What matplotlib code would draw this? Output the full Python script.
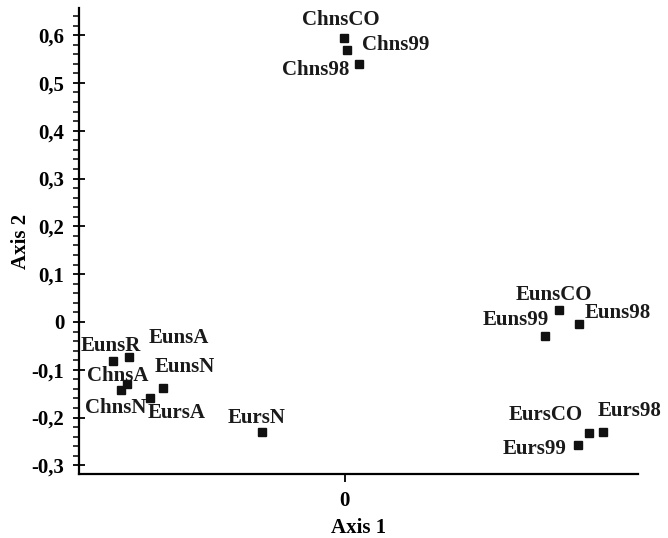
import matplotlib
matplotlib.use("Agg")
import matplotlib.pyplot as plt
from matplotlib.ticker import FixedLocator, MultipleLocator, FuncFormatter

plt.rcParams['font.family'] = ['Liberation Serif', 'DejaVu Serif']
plt.rcParams['font.weight'] = 'bold'

# point names and coordinates on the two axes
names = ["ChnsCO", "Chns99", "Chns98",
         "EunsCO", "Euns98", "Euns99",
         "EursCO", "Eurs98", "Eurs99",
         "EunsR", "EunsA", "ChnsA", "ChnsN", "EunsN", "EursA", "EursN"]
axis1 = [-0.002, 0.004, 0.029,
         0.448, 0.490, 0.418,
         0.511, 0.540, 0.487,
         -0.485, -0.452, -0.456, -0.467, -0.379, -0.408, -0.174]
axis2 = [0.594, 0.569, 0.540,
         0.025, -0.004, -0.029,
         -0.232, -0.230, -0.257,
         -0.082, -0.073, -0.130, -0.142, -0.138, -0.159, -0.230]

# label placement: offset in pixels and horizontal alignment
label_pos = {
    "ChnsCO": (-3, 18, "center"),
    "Chns99": (15, 5, "left"),
    "Chns98": (-9, -6, "right"),
    "EunsCO": (-5, 15, "center"),
    "Euns98": (6, 11, "left"),
    "Euns99": (4, 16, "right"),
    "EursCO": (-6, 18, "right"),
    "Eurs98": (-5, 21, "left"),
    "Eurs99": (-11, -4, "right"),
    "EunsR": (-2, 15, "center"),
    "EunsA": (20, 19, "left"),
    "ChnsA": (-9, 8, "center"),
    "ChnsN": (25, -18, "right"),
    "EunsN": (-9, 21, "left"),
    "EursA": (-2, -15, "left"),
    "EursN": (-5, 14, "center"),
}

fig = plt.figure(figsize=(6.68, 5.38), dpi=100)
ax = fig.add_axes([0.118, 0.119, 0.837, 0.866])

ax.plot(axis1, axis2, linestyle="none", marker="s", markersize=5.6,
        color="#111111")

for name, x, y in zip(names, axis1, axis2):
    dx, dy, ha = label_pos[name]
    ax.annotate(name, (x, y), xytext=(dx, dy), textcoords="offset pixels",
                ha=ha, va="center", fontsize=15, fontweight="bold",
                color="#1a1a1a")

ax.set_xlim(-0.556, 0.613)
ax.set_ylim(-0.318, 0.6565)

ax.spines["top"].set_visible(False)
ax.spines["right"].set_visible(False)
ax.spines["left"].set_linewidth(1.6)
ax.spines["bottom"].set_linewidth(1.6)

ax.xaxis.set_major_locator(FixedLocator([0]))
ax.yaxis.set_major_locator(FixedLocator([-0.3, -0.2, -0.1, 0, 0.1, 0.2, 0.3, 0.4, 0.5, 0.6]))
ax.yaxis.set_minor_locator(MultipleLocator(0.02))


def comma_fmt(v, pos):
    if abs(v) < 1e-9:
        return "0"
    return f"{v:.1f}".replace(".", ",")


ax.yaxis.set_major_formatter(FuncFormatter(comma_fmt))
ax.xaxis.set_major_formatter(FuncFormatter(comma_fmt))

ax.tick_params(axis="y", which="major", direction="inout", length=9, width=1.3,
               labelsize=15, pad=6)
ax.tick_params(axis="y", which="minor", direction="out", length=4, width=1.1)
ax.tick_params(axis="x", which="major", direction="out", length=6, width=1.3,
               labelsize=15, pad=6)

ax.set_xlabel("Axis 1", fontsize=15, fontweight="bold", labelpad=5)
ax.set_ylabel("Axis 2", fontsize=15, fontweight="bold", labelpad=0)

fig.savefig("out.png", dpi=100)
